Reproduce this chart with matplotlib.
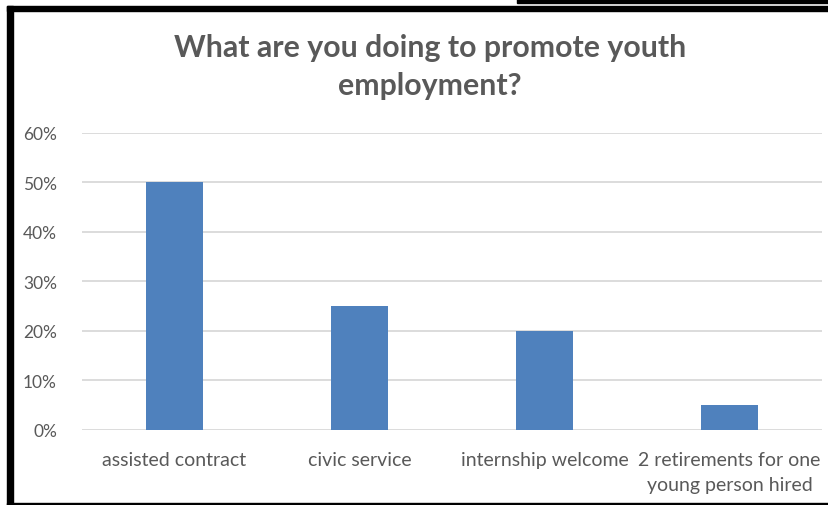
import matplotlib
matplotlib.use("Agg")
import matplotlib.pyplot as plt
from matplotlib.patches import Rectangle
from matplotlib.ticker import PercentFormatter

categories = ["assisted contract", "civic service", "internship welcome",
              "2 retirements for one\nyoung person hired"]
shares = [0.50, 0.25, 0.20, 0.05]
y_ticks = [0.0, 0.1, 0.2, 0.3, 0.4, 0.5, 0.6]
title = "What are you doing to promote youth\nemployment?"

W, H = 829, 506
plt.rcParams["font.family"] = ["Lato", "DejaVu Sans"]
text_grey = "#595959"

fig = plt.figure(figsize=(W / 100, H / 100), dpi=100)
fig.patch.set_facecolor("white")

ax = fig.add_axes([82 / W, (H - 430.7) / H, (822 - 82) / W, (430.7 - 134) / H])
x = range(len(categories))
ax.bar(x, shares, width=0.311, color="#4f81bd", zorder=3)
ax.set_xlim(-0.5, len(categories) - 0.5)
ax.set_ylim(0, 0.6)
ax.set_yticks(y_ticks)
ax.yaxis.set_major_formatter(PercentFormatter(1.0, decimals=0))
ax.set_xticks(list(x))
ax.set_xticklabels(categories, linespacing=1.6)
ax.grid(axis="y", color="#d9d9d9", linewidth=1.3, zorder=0)
for s in ax.spines.values():
    s.set_visible(False)
ax.tick_params(axis="both", length=0, colors=text_grey)
ax.tick_params(axis="y", pad=18, labelsize=12.5)
ax.tick_params(axis="x", pad=15, labelsize=14)
for lbl in ax.get_xticklabels():
    lbl.set_horizontalalignment("center")

fig.text(430 / W, 1 - 67 / H, title, ha="center", va="center",
         fontsize=21.8, fontweight="bold", color=text_grey, linespacing=1.4)

# black frame pieces along the top, left and bottom edges
def px_rect(x0, y0, x1, y1):
    fig.patches.append(Rectangle((x0 / W, 1 - y1 / H), (x1 - x0) / W, (y1 - y0) / H,
                                 transform=fig.transFigure, color="black", zorder=10))

px_rect(517, 0, W, 4.3)
px_rect(7, 7, W, 12.3)
px_rect(7, 7, 12.7, H)
px_rect(7, 503.5, W, H)

fig.savefig("out.png", dpi=100)
